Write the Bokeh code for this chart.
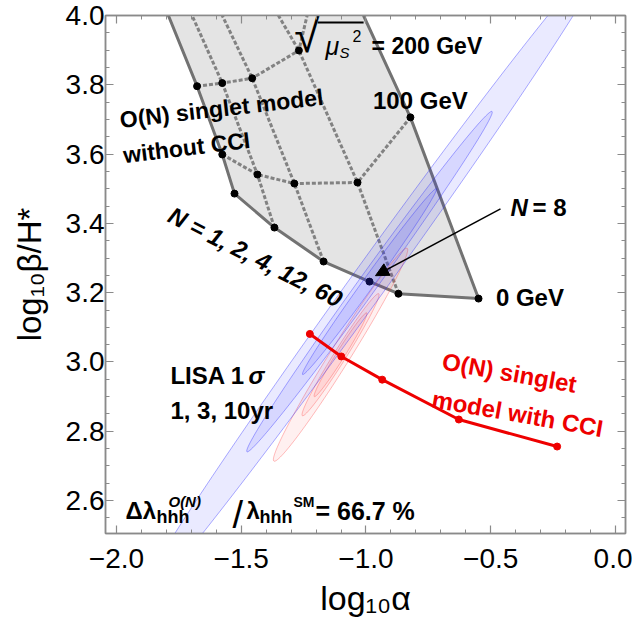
import numpy as np
from bokeh.plotting import figure
from bokeh.models import (FixedTicker, LinearAxis, Range1d, Arrow, NormalHead,
                          CustomJSTickFormatter)
from bokeh.embed import file_html
from bokeh.resources import INLINE
from bokeh.core.properties import value

# ---------------- data ----------------
N_labels = [1, 2, 4, 12, 60]
mu0_x = [-1.527, -1.367, -1.170, -0.870, -0.549]      # sqrt(mu_S^2) = 0 GeV
mu0_y = [3.486, 3.388, 3.290, 3.197, 3.183]
mu100_x = [-1.576, -1.435, -1.287, -1.034, -0.822]    # 100 GeV
mu100_y = [3.599, 3.541, 3.515, 3.518, 3.706]
mu200_x = [-1.677, -1.576, -1.456, -1.269]            # 200 GeV
mu200_y = [3.796, 3.805, 3.819, 3.899]
top_x = [-1.792, -1.697, -1.576, -1.351, -1.010]      # N lines where log10 beta/H* = 4
mu200_top_x = -1.236
N8_x, N8_y = -0.986, 3.232

cci_x = [-1.225, -1.099, -0.935, -0.628, -0.234]
cci_y = [3.081, 3.016, 2.949, 2.834, 2.756]

blue_center = (-0.986, 3.232)
blue_half_dx = [0.95, 0.491, 0.268]
blue_slope = 1.0
blue_ratio = [0.043, 0.045, 0.05]
red_center = (-1.102, 3.021)
red_half_dx = [0.267, 0.153, 0.105]
red_slope = 1.15
red_ratio = [0.08, 0.085, 0.085]

arrow_tail = (-0.461, 3.442)
arrow_head = (-0.962, 3.249)

x_ticks = [-2.0, -1.5, -1.0, -0.5, 0.0]
x_minor = [round(-2.0 + 0.1 * i, 2) for i in range(21)]
y_ticks = [2.6, 2.8, 3.0, 3.2, 3.4, 3.6, 3.8, 4.0]
y_minor = [round(2.5 + 0.05 * i, 3) for i in range(31)]

X0, X1 = -2.044, 0.040
Y0, Y1 = 2.505, 4.0

# ---------------- figure ----------------
W, H = 632, 620
ML, MR, MT, MB = 105, 7, 15, 87
p = figure(width=W, height=H, x_range=Range1d(X0, X1), y_range=Range1d(Y0, Y1),
           output_backend="svg", toolbar_location=None,
           min_border_left=ML, min_border_right=MR, min_border_top=MT, min_border_bottom=MB)
p.grid.visible = False
p.background_fill_color = "white"
p.border_fill_color = "white"
p.outline_line_color = "#8a8a8a"
p.outline_line_width = 1.5

sx = (W - ML - MR) / (X1 - X0)
sy = (H - MT - MB) / (Y1 - Y0)

FONT = value("Liberation Sans")
AXC = "#8a8a8a"
fmt_code = "return tick.toFixed(1).replace('-', '\u2212');"

def style_axis(ax, labels=True):
    ax.axis_line_color = AXC
    ax.axis_line_width = 1.5
    ax.major_tick_line_color = AXC
    ax.minor_tick_line_color = AXC
    ax.major_tick_line_width = 1.2
    ax.minor_tick_line_width = 1.0
    ax.major_tick_in = 8
    ax.major_tick_out = 0
    ax.minor_tick_in = 4
    ax.minor_tick_out = 0
    ax.major_label_text_font = "Liberation Sans"
    ax.major_label_text_font_size = "28px"
    ax.major_label_text_color = "black"
    ax.axis_label_text_font = "Liberation Sans"
    ax.axis_label_text_font_style = "normal"
    ax.axis_label_text_color = "black"
    if labels:
        ax.formatter = CustomJSTickFormatter(code=fmt_code)
    else:
        ax.formatter = CustomJSTickFormatter(code="return ''")
        ax.major_label_standoff = 0

p.xaxis.ticker = FixedTicker(ticks=x_ticks, minor_ticks=x_minor)
p.yaxis.ticker = FixedTicker(ticks=y_ticks, minor_ticks=y_minor)
for ax in p.xaxis:
    style_axis(ax)
    ax.axis_label = "log₁₀α"
    ax.axis_label_text_font_size = "34px"
    ax.major_label_standoff = 15
    ax.axis_label_standoff = 8
for ax in p.yaxis:
    style_axis(ax)
    ax.axis_label = "log₁₀β/H*"
    ax.axis_label_text_font_size = "33px"
    ax.major_label_standoff = 1
    ax.axis_label_standoff = 15

top_ax = LinearAxis(ticker=FixedTicker(ticks=x_ticks, minor_ticks=x_minor))
style_axis(top_ax, labels=False)
p.add_layout(top_ax, "above")
right_ax = LinearAxis(ticker=FixedTicker(ticks=y_ticks, minor_ticks=y_minor))
style_axis(right_ax, labels=False)
p.add_layout(right_ax, "right")

# ---------------- gray region ----------------
poly_x = [top_x[0], mu200_x[0], mu100_x[0], mu0_x[0], mu0_x[1], mu0_x[2], N8_x,
          mu0_x[3], mu0_x[4], mu100_x[4], top_x[4]]
poly_y = [Y1, mu200_y[0], mu100_y[0], mu0_y[0], mu0_y[1], mu0_y[2], N8_y,
          mu0_y[3], mu0_y[4], mu100_y[4], Y1]
p.patch(poly_x, poly_y, fill_color="#e4e4e4", line_color=None)

dash_lines_x, dash_lines_y = [], []
for i in (1, 2, 3):
    dash_lines_x.append([mu0_x[i], mu100_x[i], mu200_x[i], top_x[i]])
    dash_lines_y.append([mu0_y[i], mu100_y[i], mu200_y[i], Y1])
dash_lines_x.append(mu100_x)
dash_lines_y.append(mu100_y)
dash_lines_x.append(mu200_x + [mu200_top_x])
dash_lines_y.append(mu200_y + [Y1])
p.multi_line(dash_lines_x, dash_lines_y, line_color="#828282", line_width=3, line_dash="4 2")

p.line(poly_x, poly_y, line_color="#727272", line_width=3)

dot_x = mu0_x + [N8_x] + mu100_x + mu200_x
dot_y = mu0_y + [N8_y] + mu100_y + mu200_y
p.scatter(dot_x, dot_y, size=7, color="black")

# ---------------- LISA ellipses ----------------
def ellipse(center, half_dx, slope, ratio):
    ax_, ay_ = half_dx, half_dx * slope
    axs, ays = ax_ * sx, ay_ * sy
    L = np.hypot(axs, ays)
    B = ratio * L
    bx = ays / L * B / sx
    by = -axs / L * B / sy
    t = np.linspace(0, 2 * np.pi, 240)
    return (center[0] + ax_ * np.cos(t) + bx * np.sin(t),
            center[1] + ay_ * np.cos(t) + by * np.sin(t))

for hd, r in zip(red_half_dx, red_ratio):
    ex, ey = ellipse(red_center, hd, red_slope, r)
    p.patch(ex, ey, fill_color="#ff3030", fill_alpha=0.07,
            line_color="#ff4040", line_alpha=0.35, line_width=1)
for hd, r in zip(blue_half_dx, blue_ratio):
    ex, ey = ellipse(blue_center, hd, blue_slope, r)
    p.patch(ex, ey, fill_color="#3030ff", fill_alpha=0.1,
            line_color="#3030ff", line_alpha=0.4, line_width=1)

# ---------------- CCI line ----------------
p.line(cci_x, cci_y, line_color="#ee0000", line_width=3)
p.scatter(cci_x, cci_y, size=7, color="#ee0000")

# ---------------- arrow ----------------
p.add_layout(Arrow(x_start=arrow_tail[0], y_start=arrow_tail[1],
                   x_end=arrow_head[0], y_end=arrow_head[1],
                   line_color="black", line_width=1.5,
                   end=NormalHead(size=13, fill_color="black", line_color="black")))

# ---------------- texts ----------------
def txt(x, y, s, size="24px", style="bold", color="black", angle=0.0,
        align="left", baseline="middle", dx=0, dy=0):
    p.text([x], [y], text=[s], text_font=FONT, text_font_size=size,
           text_font_style=style, text_color=color, angle=np.deg2rad(angle),
           text_align=align, text_baseline=baseline, x_offset=dx, y_offset=dy)

txt(-1.579, 3.732, "O(N) singlet model", size="23px", angle=6.5, align="center")
txt(-1.719, 3.619, "without CCI", size="23px", angle=7, align="center")
txt(-0.782, 3.755, "100 GeV", align="center")
txt(-0.343, 3.186, "0 GeV", align="center")
txt(-1.443, 3.303, "N = 1, 2, 4, 12, 60", style="bold italic", angle=-27, align="center")
txt(-0.421, 3.446, "N", style="bold italic")
txt(-0.421, 3.446, "= 8", dx=22)
txt(-1.784, 2.961, "LISA 1")
txt(-1.784, 2.961, "σ", style="bold italic", dx=78)
txt(-1.784, 2.860, "1, 3, 10yr")
txt(-0.425, 2.969, "O(N) singlet", color="#ee0000", angle=-10, align="center")
txt(-0.393, 2.851, "model with CCI", color="#ee0000", angle=-10, align="center")

# sqrt(mu_S^2) = 200 GeV
ax0, ay0 = -1.250, 3.913
txt(ax0, ay0, "√", size="46px", style="normal", align="right", dx=16, dy=-10)
p.segment([ax0 + 14 / sx], [Y1 - 7 / sy], [ax0 + 60 / sx], [Y1 - 7 / sy],
          line_color="black", line_width=2)
txt(ax0, ay0, "μ", size="25px", style="italic", dx=22)
txt(ax0, ay0, "S", size="15px", style="italic", dx=36, dy=7)
txt(ax0, ay0, "2", size="16px", style="normal", dx=49, dy=-10)
txt(ax0, ay0, "= 200 GeV", size="23px", dx=68)

# Delta lambda formula
bx0, by0 = -1.964, 2.571
txt(bx0, by0, "Δλ", size="24px")
txt(bx0, by0, "hhh", size="18px", dx=31, dy=6)
txt(bx0, by0, "O(N)", size="15px", style="bold italic", dx=43, dy=-9)
txt(bx0, by0, "/", size="38px", style="normal", dx=107, dy=4)
txt(bx0, by0, "λ", size="24px", dx=121)
txt(bx0, by0, "hhh", size="18px", dx=134, dy=6)
txt(bx0, by0, "SM", size="14px", dx=168, dy=-9)
txt(bx0, by0, "= 66.7 %", size="25px", dx=190)

open("out.html", "w").write(file_html(p, INLINE))
